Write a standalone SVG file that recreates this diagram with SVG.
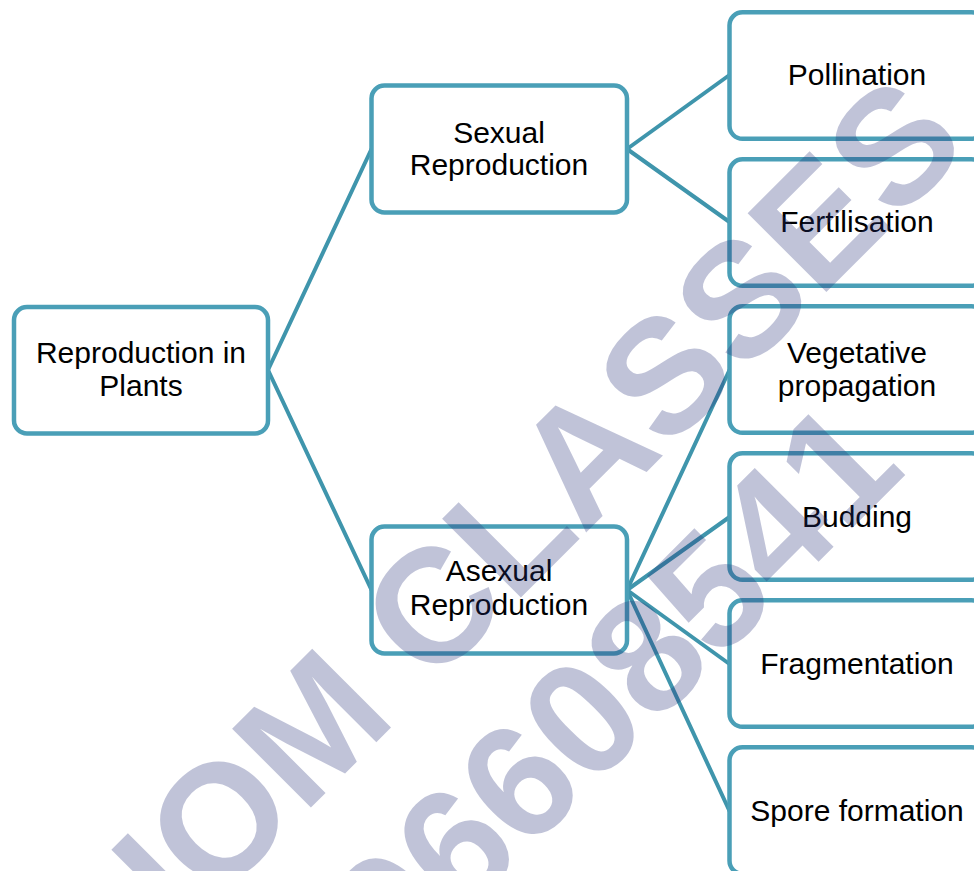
<svg xmlns="http://www.w3.org/2000/svg" width="974" height="871" viewBox="0 0 974 871">
<style>
.box{fill:#ffffff;stroke:#4a9fb7;stroke-width:4.5}
.lbl{font-family:"Liberation Sans",Arial,sans-serif;font-size:30px;fill:#000;text-anchor:middle}
.con{stroke:#3f95ac;stroke-width:4;fill:none;stroke-linecap:round}
.wm{font-family:"Liberation Sans",Arial,sans-serif;font-weight:bold;font-size:162px;fill:#26307a;fill-opacity:0.29}
</style>
<rect width="974" height="871" fill="#ffffff"/>
<g id="connectors">
<line class="con" x1="268" y1="370" x2="371.5" y2="149" stroke="#3a8ca0"/>
<line class="con" x1="268" y1="370" x2="371.5" y2="590"/>
<line class="con" x1="627" y1="149" x2="729.5" y2="75"/>
<line class="con" x1="627" y1="149" x2="729.5" y2="222"/>
<line class="con" x1="627" y1="590" x2="729.5" y2="370"/>
<line class="con" x1="627" y1="590" x2="729.5" y2="517"/>
<line class="con" x1="627" y1="590" x2="729.5" y2="664"/>
<line class="con" x1="627" y1="590" x2="729.5" y2="811"/>
</g>
<g id="root">
<rect class="box" x="14" y="307" width="254" height="126.5" rx="13"/>
<text class="lbl" x="141" y="363">Reproduction in</text>
<text class="lbl" x="141" y="396">Plants</text>
</g>
<g id="sexual">
<rect class="box" x="371.5" y="85.5" width="255.5" height="127" rx="13"/>
<text class="lbl" x="499" y="143">Sexual</text>
<text class="lbl" x="499" y="175">Reproduction</text>
</g>
<g id="asexual">
<rect class="box" x="371.5" y="526.5" width="255.5" height="127" rx="13"/>
<text class="lbl" x="499" y="581">Asexual</text>
<text class="lbl" x="499" y="615">Reproduction</text>
</g>
<g id="pollination">
<rect class="box" x="729.5" y="12.3" width="255" height="126.5" rx="13"/>
<text class="lbl" x="857" y="85">Pollination</text>
</g>
<g id="fertilisation">
<rect class="box" x="729.5" y="159.3" width="255" height="126.5" rx="13"/>
<text class="lbl" x="857" y="232">Fertilisation</text>
</g>
<g id="vegetative">
<rect class="box" x="729.5" y="306.3" width="255" height="126.5" rx="13"/>
<text class="lbl" x="857" y="363">Vegetative</text>
<text class="lbl" x="857" y="396">propagation</text>
</g>
<g id="budding">
<rect class="box" x="729.5" y="453.3" width="255" height="126.5" rx="13"/>
<text class="lbl" x="857" y="527">Budding</text>
</g>
<g id="fragmentation">
<rect class="box" x="729.5" y="600.3" width="255" height="126.5" rx="13"/>
<text class="lbl" x="857" y="674">Fragmentation</text>
</g>
<g id="spore">
<rect class="box" x="729.5" y="747.3" width="255" height="126.5" rx="13"/>
<text class="lbl" x="857" y="821">Spore formation</text>
</g>
<g id="watermark">
<text class="wm" transform="rotate(-45)" x="-533" y="791">IOM CLASSES</text>
<text class="wm" transform="rotate(-45)" x="-412" y="976">96608541</text>
</g>
</svg>
